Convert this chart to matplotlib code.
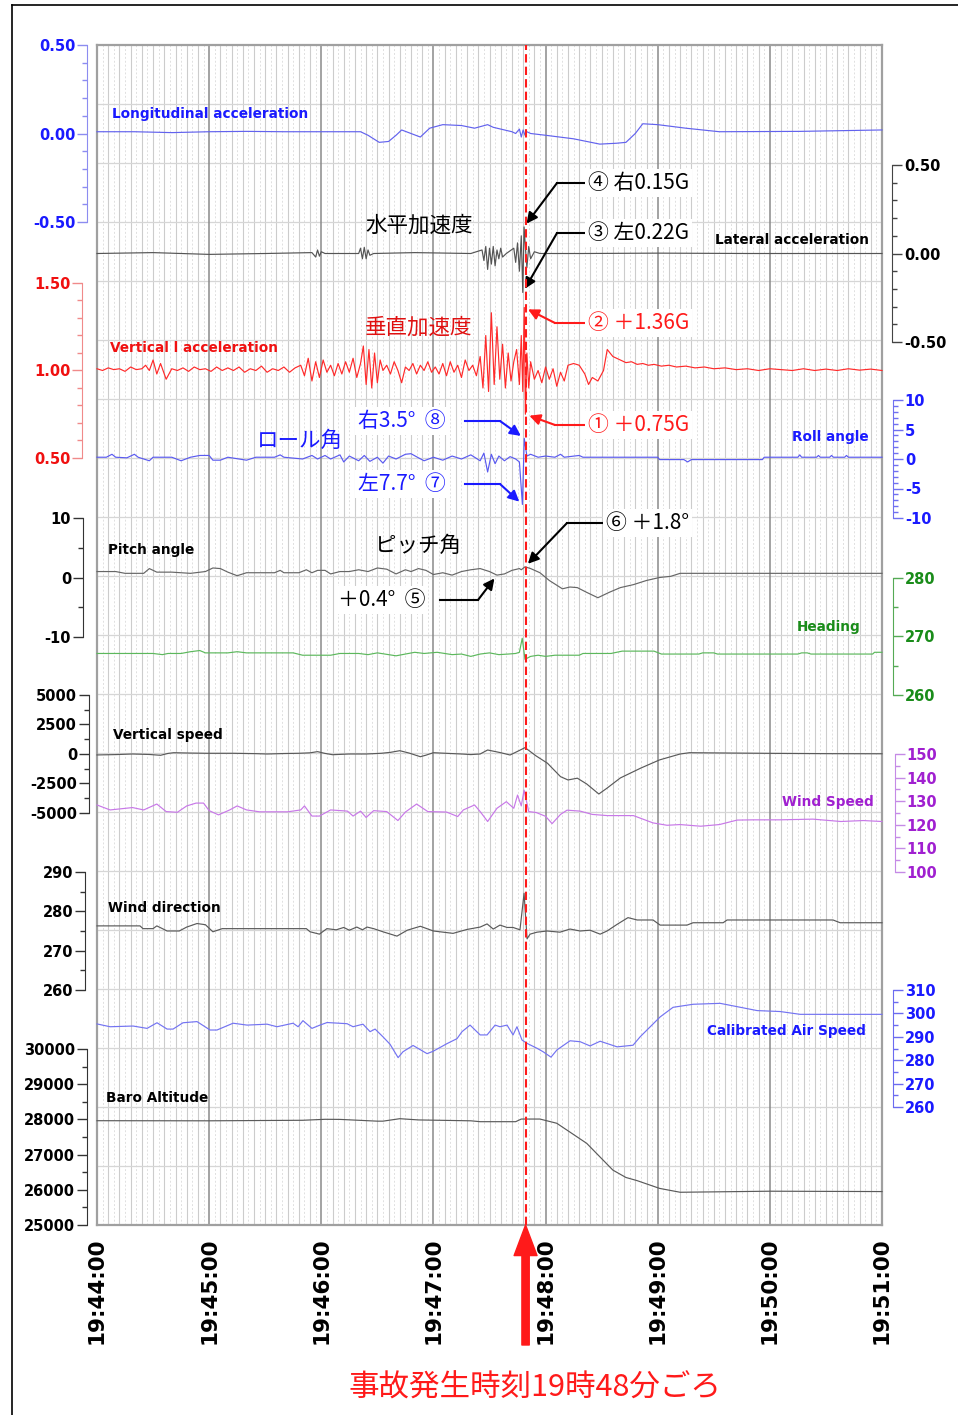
import matplotlib
matplotlib.use('Agg')
import matplotlib.pyplot as plt
import numpy as np
from matplotlib.lines import Line2D

plt.rcParams['font.family'] = ['DejaVu Sans']
JP = ['Noto Sans CJK JP', 'DejaVu Sans']

# ---- data (time in seconds after 19:44:00) ----
minute_labels = ['19:44:00', '19:45:00', '19:46:00', '19:47:00',
                 '19:48:00', '19:49:00', '19:50:00', '19:51:00']
event_t = 229.3

long_t = [0, 20, 40, 60, 80, 100, 120, 141, 145, 151,
          156, 160, 163, 168, 173, 178, 185, 195, 202, 209,
          212, 218, 222, 224, 226, 227, 228, 229, 230, 232,
          240, 255, 269, 278, 283, 288, 292, 300, 315, 333,
          376, 420]
long_g = [0.01, 0.01, 0.005, 0.01, 0.012, 0.01, 0.01, 0.01, -0.01, -0.05,
          -0.045, -0.01, 0.02, 0.0, -0.02, 0.03, 0.05, 0.045, 0.03, 0.05,
          0.035, 0.02, 0.01, 0.0, 0.025, -0.02, 0.02, -0.01, 0.01, 0.0,
          -0.01, -0.03, -0.06, -0.055, -0.05, 0.0, 0.055, 0.05, 0.03, 0.01,
          0.012, 0.02]

lat_t = [0, 30, 60, 90, 115, 117, 118, 119, 120, 122,
         140, 141, 142, 143, 144, 145, 146, 148, 170, 200,
         206, 207, 208, 209, 210, 211, 212, 213, 214, 215,
         216, 217, 219, 223, 224, 225, 226, 227, 227.8, 228.5,
         229.3, 230, 231, 232, 234, 237, 260, 300, 350, 420]
lat_g = [0.0, 0.005, -0.005, 0.0, 0.005, -0.02, 0.02, -0.015, 0.01, 0.0,
         0.0, 0.03, -0.03, 0.035, -0.03, 0.02, -0.01, 0.0, 0.005, 0.0,
         0.02, -0.04, 0.04, -0.09, 0.03, -0.06, 0.04, -0.07, 0.02, -0.03,
         0.03, -0.02, 0.0, 0.03, -0.05, 0.06, -0.1, 0.1, -0.22, 0.15,
         0.02, -0.08, 0.04, -0.03, 0.01, 0.0, 0.0, 0.002, 0.0, 0.0]

vacc_t = [0, 3, 6, 9, 12, 15, 18, 21, 24, 26,
          28, 30, 32, 34, 37, 40, 43, 46, 49, 52,
          55, 58, 61, 64, 67, 70, 73, 76, 79, 82,
          85, 88, 91, 94, 97, 100, 103, 106, 109, 111,
          113, 115, 117, 119, 121, 123, 125, 127, 129, 131,
          133, 135, 137, 139, 141, 142.5, 144, 145.5, 147, 148.5,
          150, 151.5, 153, 155, 157, 159, 161, 163, 165, 167,
          169, 171, 173, 175, 177, 179, 181, 183, 185, 187,
          189, 191, 193, 195, 197, 199, 201, 203, 205, 206.5,
          208, 209.5, 211, 212.5, 214, 215.5, 217, 218.5, 220, 221.5,
          223, 224.5, 226, 227, 227.8, 228.6, 229.2, 230, 231, 232,
          234, 236, 238, 240, 242, 244, 246, 248, 250, 252,
          255, 258, 261, 263, 265, 268, 271, 273, 276, 278,
          280, 283, 286, 289, 292, 295, 298, 302, 306, 310,
          315, 320, 325, 330, 336, 342, 348, 354, 360, 366,
          372, 378, 384, 390, 396, 402, 408, 414, 420]
vacc_g = [1.01, 1.0, 1.015, 1.005, 1.01, 0.995, 1.02, 1.005, 1.01, 1.03,
          1.0, 1.06, 0.98, 1.04, 0.95, 1.01, 1.0, 1.015, 0.995, 1.02,
          1.005, 1.01, 0.995, 1.02, 1.0, 1.015, 1.0, 1.02, 0.99, 1.01,
          1.0, 1.025, 0.99, 1.01, 1.0, 1.02, 0.99, 1.015, 1.03, 0.97,
          1.07, 0.94, 1.05, 0.96, 1.06, 0.99, 1.03, 0.97, 1.04, 0.98,
          1.05, 0.99, 1.07, 0.96, 1.04, 1.14, 0.92, 1.12, 0.9, 1.1,
          0.93, 1.06, 1.0, 1.03, 0.98, 1.05, 1.0, 0.93, 1.02, 1.0,
          1.04, 0.98, 1.03, 1.0, 1.05, 0.99, 1.02, 0.98, 1.04, 0.97,
          1.05, 0.99, 1.03, 0.96, 1.06, 1.0, 1.03, 0.97, 1.08, 0.9,
          1.2, 0.88, 1.33, 0.92, 1.25, 0.95, 1.15, 0.9, 1.1, 0.94,
          1.05, 1.12, 0.92, 1.2, 0.88, 1.36, 0.75, 1.1, 0.9, 1.05,
          0.95, 1.0, 0.93, 1.02, 0.95, 1.01, 0.91, 0.99, 0.94, 1.03,
          1.04, 1.03, 0.98, 0.92, 0.96, 0.94, 1.0, 1.12, 1.08, 1.07,
          1.06, 1.045, 1.05, 1.035, 1.04, 1.03, 1.035, 1.025, 1.03, 1.02,
          1.025, 1.015, 1.02, 1.01, 1.015, 1.005, 1.01, 1.0, 1.01, 1.005,
          1.0, 1.01, 1.0, 1.008, 1.0, 1.01, 1.002, 1.008, 1.0]

roll_t = [0, 5, 8, 10, 16, 20, 22, 28, 30, 40,
          45, 50, 55, 60, 62, 66, 70, 80, 85, 95,
          98, 100, 110, 115, 118, 122, 125, 130, 132, 135,
          140, 143, 146, 150, 153, 156, 160, 165, 168, 172,
          175, 180, 185, 190, 195, 200, 205, 207, 209, 211,
          213, 215, 218, 221, 224, 226, 227.6, 228.6, 230, 232,
          236, 240, 245, 248, 250, 258, 260, 300, 301, 314,
          316, 318, 356, 357, 375, 376, 377, 385, 386, 387,
          392, 393, 394, 400, 401, 402, 420]
roll_deg = [0.3, 0.3, 0.8, 0.3, 0.2, 0.8, 0.3, -0.3, 0.3, 0.3,
            -0.3, 0.3, 0.6, 0.6, -0.2, -0.2, 0.3, -0.2, 0.3, 0.3,
            0.7, 0.3, 0.0, 0.6, 0.0, 0.6, 0.0, 0.7, -0.5, 0.5,
            -0.3, 0.6, -0.4, 0.3, -0.7, 0.5, 0.0, 0.8, 0.9, 0.2,
            -0.3, 0.3, -0.2, 0.5, 0.0, 0.7, -0.3, 1.0, -2.2, 0.8,
            -0.8, 0.5, -0.3, 0.4, 0.0, -0.5, -7.7, 3.5, 0.5, 0.8,
            0.3, 0.5, 0.3, 0.8, 0.3, 0.6, 0.3, 0.3, -0.1, -0.1,
            -0.5, -0.1, -0.1, 0.3, 0.3, 0.7, 0.3, 0.3, 0.6, 0.3,
            0.3, 0.6, 0.3, 0.3, 0.6, 0.3, 0.3]

pitch_t = [0, 10, 15, 25, 28, 32, 40, 50, 58, 62,
           66, 70, 75, 80, 95, 98, 100, 108, 112, 115,
           118, 122, 125, 130, 135, 140, 145, 150, 155, 160,
           165, 168, 172, 176, 180, 185, 190, 195, 200, 205,
           210, 214, 218, 222, 226, 227, 229, 232, 237, 242,
           249, 253, 257, 262, 268, 274, 280, 287, 294, 301,
           307, 312, 420]
pitch_deg = [1.0, 1.0, 0.7, 0.7, 1.5, 0.9, 0.9, 0.7, 1.0, 1.6,
             1.5, 0.9, 0.3, 0.8, 0.8, 1.2, 0.8, 0.8, 1.3, 0.8,
             1.2, 1.2, 0.6, 1.0, 1.0, 1.3, 1.0, 1.6, 1.4, 0.6,
             1.3, 1.0, 1.5, 1.2, 0.5, 0.8, 0.4, 1.0, 1.3, 1.5,
             1.0, 0.4, 0.6, 1.2, 1.5, 1.3, 1.8, 1.5, 0.8, -0.5,
             -1.9, -1.6, -1.7, -2.5, -3.4, -2.5, -1.7, -1.2, -0.5, 0.0,
             0.2, 0.7, 0.7]

head_t = [0, 30, 35, 38, 45, 50, 55, 58, 70, 75,
          80, 105, 110, 125, 130, 140, 145, 150, 160, 165,
          170, 175, 182, 190, 195, 200, 205, 210, 215, 220,
          224, 226, 227.5, 229, 232, 236, 240, 245, 258, 260,
          275, 281, 298, 302, 322, 324, 330, 332, 375, 377,
          380, 382, 415, 416, 420]
head_deg = [267.1, 267.1, 266.9, 267.1, 267.1, 267.4, 267.6, 267.2, 267.2, 267.4,
            267.2, 267.2, 266.8, 266.8, 267.1, 267.1, 266.9, 267.2, 266.7, 267.0,
            267.3, 267.1, 267.3, 266.9, 267.0, 266.6, 267.0, 267.2, 266.9, 267.0,
            267.1, 267.3, 269.7, 266.1, 266.6, 266.8, 266.6, 266.8, 266.8, 267.1,
            267.1, 267.5, 267.5, 267.0, 267.0, 267.2, 267.2, 267.0, 267.0, 267.2,
            267.2, 267.0, 267.0, 267.3, 267.3]

vs_t = [0, 10, 19, 28, 34, 38, 41, 50, 59, 73,
        85, 91, 100, 108, 114, 118, 122, 126, 135, 144,
        152, 157, 162, 167, 173, 176, 180, 188, 195, 200,
        205, 209, 216, 221, 226, 229, 235, 241, 248, 252,
        257, 262, 268.5, 273, 280, 291, 301, 312, 317, 340,
        360, 390, 420]
vs_fpm = [-80, -50, 0, -40, -110, 50, 110, 80, 60, 60,
          30, 0, 40, 60, 100, 200, 50, -60, 0, 0,
          60, 140, 280, 80, -230, -100, 110, 50, 0, -50,
          0, 340, 110, -85, 300, 540, -170, -780, -1920, -2200,
          -2050, -2540, -3390, -2880, -2030, -1190, -500, 0, 110, 80,
          56, 30, 20]

ws_t = [0, 7, 19, 25, 32, 37, 43, 48, 53, 57,
        60, 65, 71, 75, 80, 87, 102, 109, 111, 115,
        119, 125, 134, 137, 141, 144, 148, 155, 161, 165,
        171, 177, 187, 193, 196, 202, 205, 209, 214, 219,
        223, 225, 227, 228.5, 231, 235, 240, 243.5, 248, 251.5,
        258.5, 265, 273, 287, 297.5, 305, 312, 323, 333, 342.5,
        351, 365, 383, 398, 410, 420]
ws_kt = [128.4, 126.3, 127.3, 126.3, 128.8, 125.6, 125.3, 128, 129.2, 129.2,
         126, 124.2, 126.3, 128, 126.3, 125.5, 125.5, 126.3, 128, 123.7,
         123.7, 126.3, 125.8, 123.7, 125.8, 123.1, 126, 125.6, 121.8, 125.4,
         128.8, 125.6, 125.4, 123.5, 126.3, 128.4, 125.6, 121.4, 127, 129.8,
         127, 132.6, 128, 134.7, 125.6, 125.2, 123.6, 120.5, 124.4, 126.2,
         125.8, 124.4, 123.9, 123.9, 120.8, 119.8, 120.1, 119.4, 120.1, 122,
         122.1, 122.1, 122.4, 121.4, 121.8, 121.4]

wd_t = [0, 23, 24.6, 30, 32, 35, 37.5, 44, 48, 53.5,
        58, 62, 67, 73, 112, 114, 119, 123, 128, 132,
        135, 139, 142, 144.5, 148, 153, 160.5, 166, 173, 180,
        190.5, 198, 205, 208.7, 212, 215.6, 219.4, 222.6, 226.3, 228.5,
        230.1, 231.7, 235.4, 240.8, 247.7, 253.1, 258.5, 263.8, 269.2, 272.9,
        278.3, 284.1, 289, 297.5, 301.3, 315.7, 318.9, 335, 337.1, 393.8,
        397.6, 420]
wd_deg = [276.3, 276.3, 275.6, 275.6, 276.3, 275.6, 275.0, 275.0, 276.0, 276.9,
          276.6, 274.8, 275.6, 275.6, 275.6, 274.8, 274.2, 275.6, 275.3, 275.9,
          275.2, 276.0, 275.3, 276.0, 275.6, 274.8, 273.7, 275.2, 276.2, 275.0,
          274.4, 275.4, 276.0, 276.8, 275.5, 276.5, 275.9, 275.9, 275.3, 284.6,
          273.0, 274.2, 274.7, 275.0, 274.7, 275.5, 275.0, 275.2, 274.2, 275.0,
          276.7, 278.4, 277.8, 277.8, 276.5, 276.5, 277.1, 277.1, 277.8, 277.8,
          277.1, 277.1]

cas_t = [0, 7, 19.3, 26.8, 32.1, 37.5, 40.7, 46, 53.5, 60.5,
         64.2, 72.8, 80.3, 91, 96.3, 104.9, 107.6, 110.2, 115, 119.3,
         123.1, 133.8, 137, 142.3, 146.1, 148.8, 153, 156.8, 161.1, 163.7,
         169.1, 176.6, 179.8, 187.3, 192.6, 195.3, 199.6, 205, 208.7, 213,
         215.6, 219.4, 222.6, 224.7, 227.4, 230.1, 235.4, 238.7, 242.9, 246.1,
         253.1, 258.5, 263.8, 269.2, 278.3, 286.8, 290.6, 301.3, 308.2, 318.9,
         333.4, 353.2, 365.5, 376.2, 420]
cas_kt = [295.5, 294.3, 294.6, 293.6, 296.0, 293.3, 293.3, 296.0, 296.5, 292.9,
          292.9, 295.8, 295.0, 295.4, 294.3, 295.8, 294.3, 296.9, 293.6, 295.0,
          296.1, 295.6, 294.3, 295.4, 292.2, 293.3, 290.0, 286.8, 281.1, 283.6,
          286.3, 282.8, 283.8, 287.1, 289.2, 292.2, 295.0, 290.8, 290.8, 295.0,
          294.3, 295.0, 290.8, 294.3, 288.6, 287.2, 285.1, 283.6, 281.3, 284.4,
          288.3, 287.9, 286.1, 288.1, 285.7, 286.4, 290.0, 298.5, 302.6, 303.9,
          304.3, 301.2, 300.8, 299.6, 299.6]

baro_t = [0, 60, 110, 122, 130, 150, 153, 162, 172, 200,
          205, 224, 227, 237, 246, 262, 269, 276, 283, 289,
          301, 312, 360, 420]
baro_ft = [27963, 27960, 27975, 28003, 28000, 27950, 27950, 28020, 27985, 27960,
           27935, 27935, 28010, 28010, 27890, 27320, 26940, 26560, 26350, 26260,
           26040, 25930, 25960, 25950]

# ---- layout helpers (image pixels) ----
W, H = 958, 1415
X0, X1, Y0, Y1 = 97, 882, 45, 1225
fig = plt.figure(figsize=(W / 100, H / 100), dpi=100)


def rect(top, bottom):
    return [X0 / W, 1 - bottom / H, (X1 - X0) / W, (bottom - top) / H]


def fy(y):
    return 1 - y / H


# background grid axes
ax0 = fig.add_axes(rect(Y0, Y1))
ax0.set_xlim(0, 420)
ax0.set_ylim(0, 20)
ax0.set_yticks([])
for t in range(3, 420, 3):
    if t % 60 == 0:
        ax0.axvline(t, color='#8a8a8a', lw=1.1, zorder=1)
    elif t % 6 == 0:
        ax0.axvline(t, color='#cccccc', lw=0.8, zorder=0)
    else:
        ax0.axvline(t, color='#e0e0e0', lw=0.7, ls=(0, (2, 2)), zorder=0)
for k in range(1, 20):
    ax0.axhline(k, color='#d6d6d6', lw=0.9, zorder=0)
for s in ax0.spines.values():
    s.set_color('#a0a0a0')
    s.set_linewidth(1.6)
ax0.set_xticks(range(0, 421, 60))
ax0.set_xticklabels(minute_labels, rotation=90, fontsize=15.5, fontweight='bold')
ax0.tick_params(axis='x', length=0, pad=9)


def track(top, bottom, lo, hi, side, off_px, lab_c, sp_c, major, minor, fmt):
    ax = fig.add_axes(rect(top, bottom))
    ax.set_xlim(0, 420)
    ax.set_ylim(lo, hi)
    ax.patch.set_visible(False)
    ax.xaxis.set_visible(False)
    for s in ax.spines.values():
        s.set_visible(False)
    sp = ax.spines[side]
    sp.set_visible(True)
    sp.set_position(('outward', off_px * 0.72))
    sp.set_color(sp_c)
    ax.yaxis.set_ticks_position(side)
    ax.set_yticks(major)
    ax.set_yticks(minor, minor=True)
    ax.set_yticklabels([fmt.format(v) for v in major], fontweight='bold')
    ax.tick_params(axis='y', which='major', length=7, width=1, color=sp_c,
                   labelcolor=lab_c, labelsize=10.5, pad=1.5)
    ax.tick_params(axis='y', which='minor', length=3.6, width=1, color=sp_c)
    return ax


BLUE = '#1a1aff'
ax_long = track(45, 222, -0.5, 0.5, 'left', 10, BLUE, '#8c8cf0',
                [-0.5, 0, 0.5], np.arange(-0.5, 0.51, 0.1), '{:.2f}')
ax_lat = track(165, 342, -0.5, 0.5, 'right', 10, 'black', '#444444',
               [-0.5, 0, 0.5], np.arange(-0.5, 0.51, 0.1), '{:.2f}')
ax_vacc = track(283, 458, 0.5, 1.5, 'left', 15, '#f01010', '#f08a8a',
                [0.5, 1.0, 1.5], np.arange(0.5, 1.51, 0.1), '{:.2f}')
ax_roll = track(400, 518, -10, 10, 'right', 11, BLUE, '#7070f0',
                [-10, -5, 0, 5, 10], np.arange(-10, 11, 1), '{:.0f}')
ax_pitch = track(518, 637, -10, 10, 'left', 14, 'black', '#333333',
                 [-10, 0, 10], [-5, 5], '{:.0f}')
ax_head = track(578, 695, 260, 280, 'right', 11, '#1a8c1a', '#55aa55',
                [260, 270, 280], [265, 275], '{:.0f}')
ax_vs = track(695, 813, -5000, 5000, 'left', 8, 'black', '#333333',
              [-5000, -2500, 0, 2500, 5000], np.arange(-5000, 5001, 1250), '{:.0f}')
ax_ws = track(754, 872, 100, 150, 'right', 13, '#a020d0', '#c58ae6',
              range(100, 151, 10), range(100, 151, 5), '{:.0f}')
ax_wd = track(872, 990, 260, 290, 'left', 12, 'black', '#333333',
              range(260, 291, 10), range(260, 291, 5), '{:.0f}')
ax_cas = track(990, 1107, 260, 310, 'right', 11, BLUE, '#6b6bf0',
               range(260, 311, 10), range(260, 311, 5), '{:.0f}')
ax_baro = track(1049, 1225, 25000, 30000, 'left', 10, 'black', '#333333',
                range(25000, 30001, 1000), range(25000, 30001, 500), '{:.0f}')

LW = 0.85
ax_long.plot(long_t, long_g, color='#6262ee', lw=LW, clip_on=False)
ax_lat.plot(lat_t, lat_g, color='#555555', lw=LW, clip_on=False)
ax_vacc.plot(vacc_t, vacc_g, color='#ff2a2a', lw=LW, clip_on=False)
ax_roll.plot(roll_t, roll_deg, color='#5a5af0', lw=LW, clip_on=False)
ax_pitch.plot(pitch_t, pitch_deg, color='#666666', lw=LW, clip_on=False)
ax_head.plot(head_t, head_deg, color='#5cb85c', lw=LW, clip_on=False)
ax_vs.plot(vs_t, vs_fpm, color='#5a5a5a', lw=LW, clip_on=False)
ax_ws.plot(ws_t, ws_kt, color='#c878e8', lw=LW, clip_on=False)
ax_wd.plot(wd_t, wd_deg, color='#5a5a5a', lw=LW, clip_on=False)
ax_cas.plot(cas_t, cas_kt, color='#7373f2', lw=LW, clip_on=False)
ax_baro.plot(baro_t, baro_ft, color='#5a5a5a', lw=LW, clip_on=False)

# series names
names = [('Longitudinal acceleration', 112, 114, BLUE),
         ('Lateral acceleration', 715, 240, 'black'),
         ('Vertical l acceleration', 110, 348, '#f01010'),
         ('Roll angle', 792, 437, BLUE),
         ('Pitch angle', 108, 550, 'black'),
         ('Heading', 797, 627, '#1a8c1a'),
         ('Vertical speed', 113, 735, 'black'),
         ('Wind Speed', 782, 802, '#a020d0'),
         ('Wind direction', 108, 908, 'black'),
         ('Calibrated Air Speed', 707, 1031, BLUE),
         ('Baro Altitude', 106, 1098, 'black')]
for txt, x, y, c in names:
    fig.text(x / W, fy(y), txt, color=c, fontsize=9.8, fontweight='bold',
             ha='left', va='center')

# Japanese labels
for txt, x, y, c in [('水平加速度', 365, 226, 'black'), ('垂直加速度', 365, 328, '#e01010'),
                     ('ロール角', 257, 441, BLUE), ('ピッチ角', 375, 546, 'black')]:
    fig.text(x / W, fy(y), txt, color=c, fontsize=15.5, family=JP,
             ha='left', va='center')

# overlay for event line and callouts
ov = fig.add_axes(rect(Y0, Y1))
ov.set_xlim(0, 420)
ov.set_ylim(0, 1)
ov.axis('off')
ov.axvline(event_t, color='#ff1a1a', lw=1.5, ls=(0, (4, 2)))

BOX = dict(facecolor='white', edgecolor='none', pad=2)
callouts = [
    ('④ 右0.15G', 588, 183, 557, 'black', ax_lat, 228.5, 0.15),
    ('③ 左0.22G', 588, 233, 557, 'black', ax_lat, 227.8, -0.22),
    ('② ＋1.36G', 588, 323, 555, '#ff1a1a', ax_vacc, 228.6, 1.36),
    ('① ＋0.75G', 588, 425, 555, '#ff1a1a', ax_vacc, 229.2, 0.75),
    ('⑥ ＋1.8°', 606, 523, 567, 'black', ax_pitch, 229, 1.8),
]
for txt, x, y, kx, c, ax, t, v in callouts:
    fig.text(x / W, fy(y), txt, color=c, fontsize=15, family=JP, ha='left',
             va='center', bbox=BOX)
    fig.add_artist(Line2D([(x - 3) / W, kx / W], [fy(y), fy(y)], color=c, lw=1.5))
    ax.annotate('', xy=(t, v), xytext=(kx, H - y), textcoords='figure pixels',
                arrowprops=dict(arrowstyle='-|>', color=c, lw=1.5,
                                mutation_scale=16, shrinkA=0, shrinkB=3))

callouts_left = [
    ('右3.5°  ⑧', 358, 421, 465, 500, BLUE, ax_roll, 228.6, 3.5),
    ('左7.7°  ⑦', 358, 484, 465, 500, BLUE, ax_roll, 227.6, -7.7),
    ('＋0.4°  ⑤', 338, 600, 440, 478, 'black', ax_pitch, 214, 0.4),
]
for txt, x, y, sx, kx, c, ax, t, v in callouts_left:
    fig.text(x / W, fy(y), txt, color=c, fontsize=15, family=JP, ha='left',
             va='center', bbox=BOX)
    fig.add_artist(Line2D([sx / W, kx / W], [fy(y), fy(y)], color=c, lw=1.5))
    ax.annotate('', xy=(t, v), xytext=(kx, H - y), textcoords='figure pixels',
                arrowprops=dict(arrowstyle='-|>', color=c, lw=1.5,
                                mutation_scale=16, shrinkA=0, shrinkB=3))

# big red arrow and caption
ov.annotate('', xy=(event_t, 0), xycoords=('data', 'axes fraction'),
            xytext=(event_t, -(1345 - Y1) / (Y1 - Y0)), textcoords=('data', 'axes fraction'),
            arrowprops=dict(arrowstyle='simple,head_length=1.0,head_width=0.75,tail_width=0.24',
                            fc='#ff1a1a', ec='#ff1a1a', mutation_scale=22,
                            shrinkA=0, shrinkB=0))
fig.text(535 / W, fy(1388), '事故発生時刻19時48分ごろ', color='#ff1a1a',
         fontsize=22, family=JP, ha='center', va='center')

# outer frame
fig.add_artist(Line2D([12 / W, 12 / W], [fy(1415), fy(5)], color='black', lw=1.2))
fig.add_artist(Line2D([12 / W, 1], [fy(5), fy(5)], color='black', lw=1.2))

fig.savefig('out.png', dpi=100)
